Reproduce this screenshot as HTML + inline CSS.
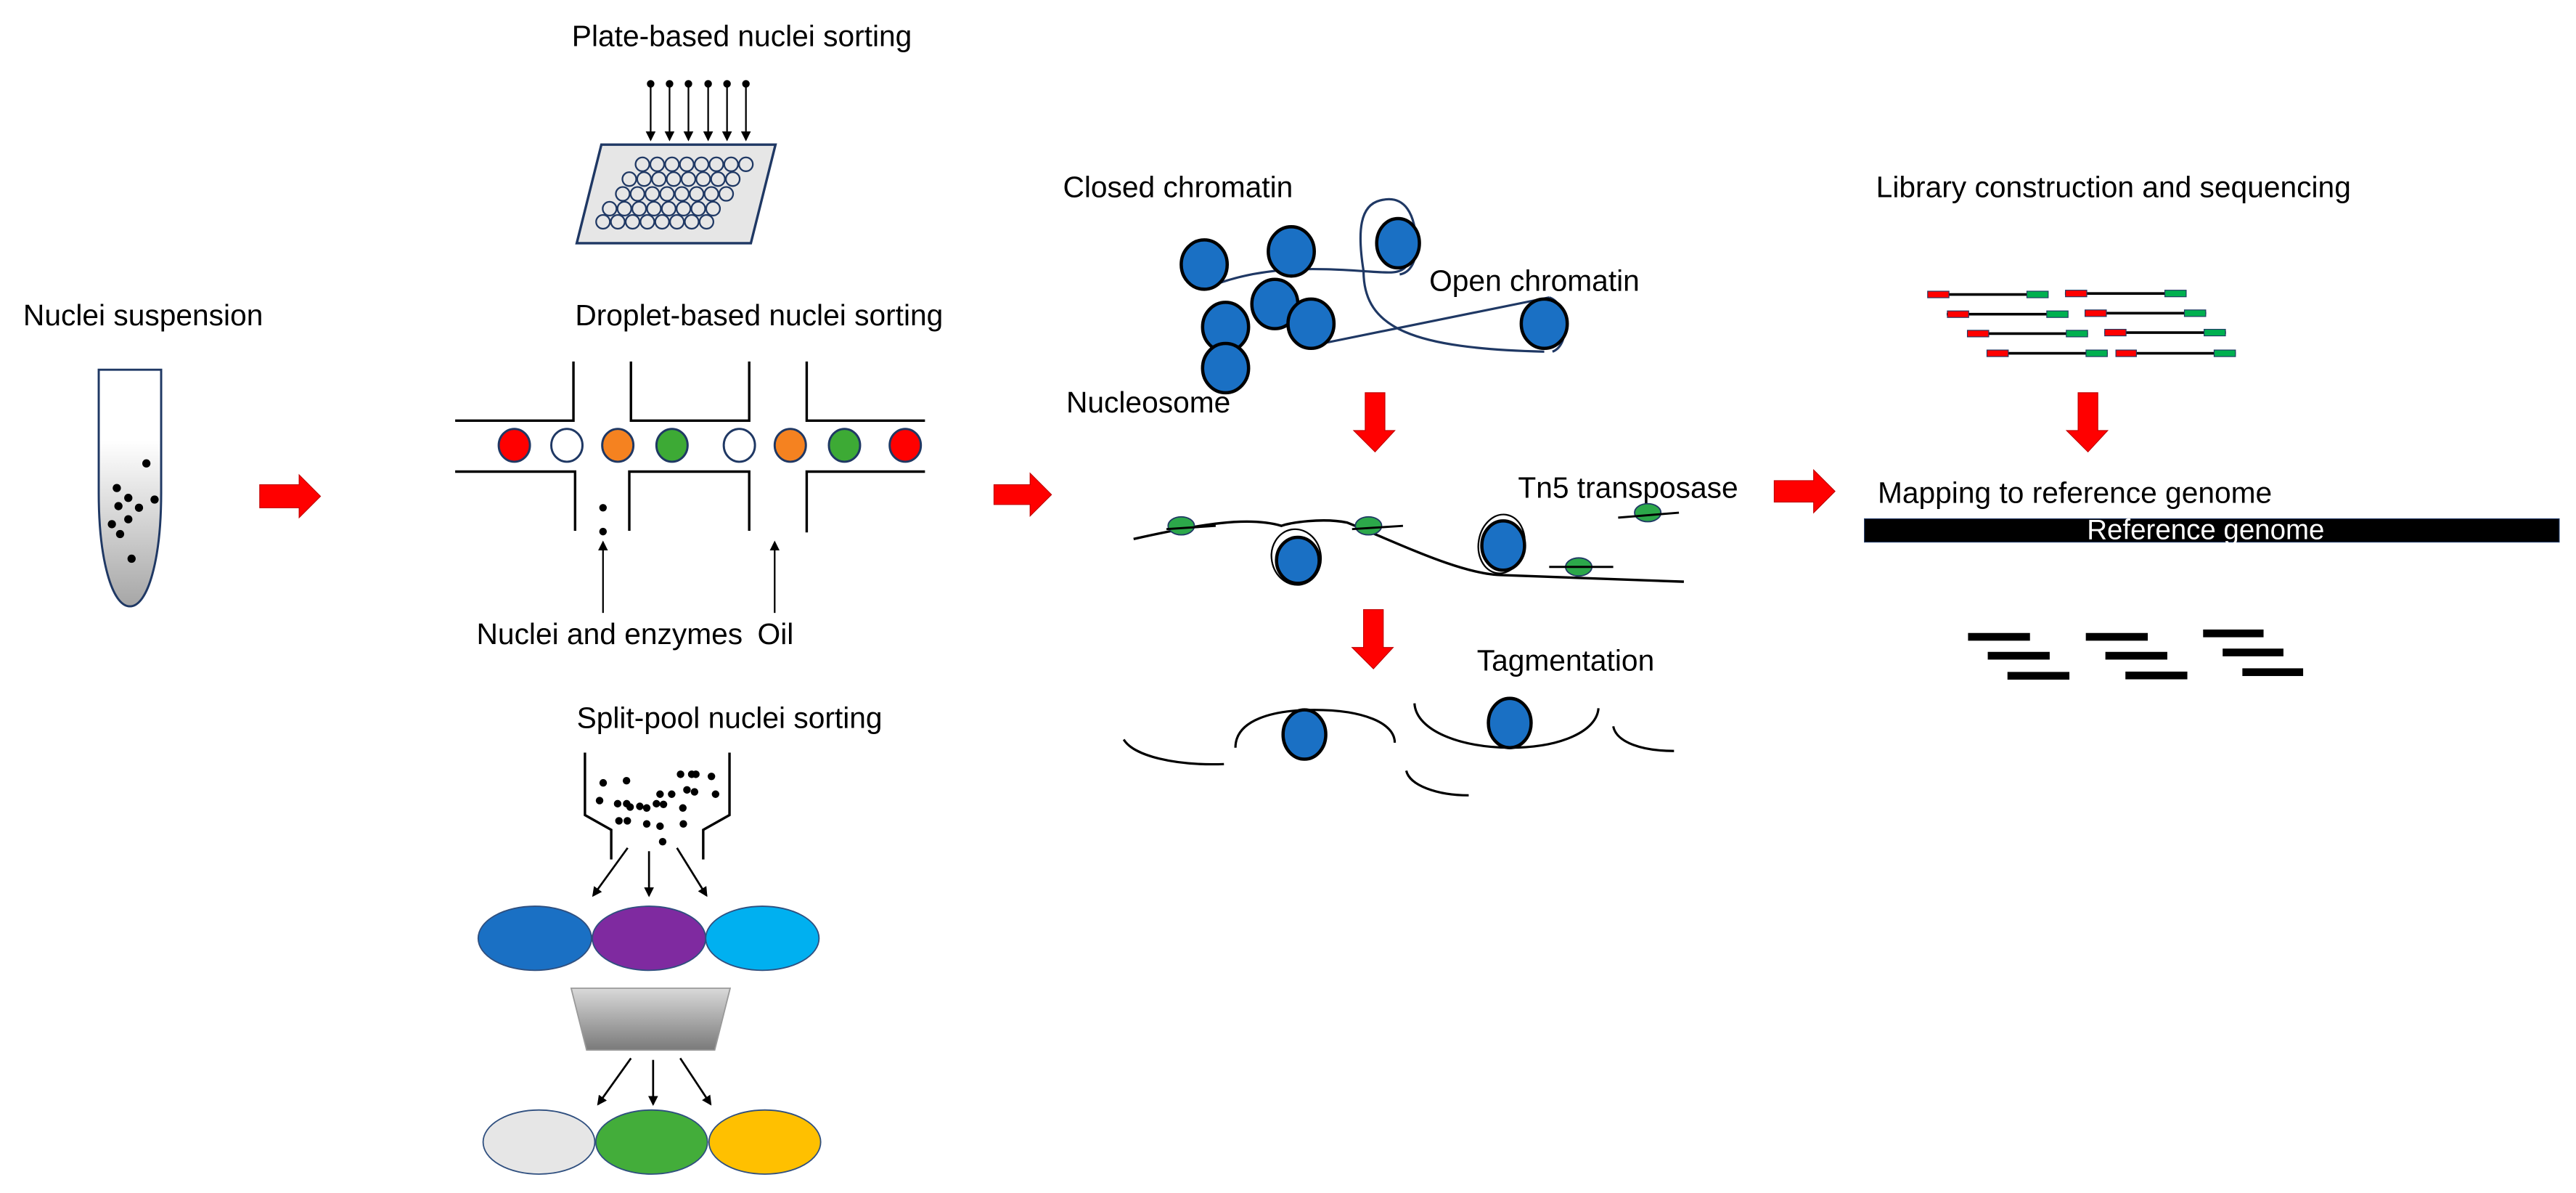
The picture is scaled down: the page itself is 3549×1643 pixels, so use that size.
<!DOCTYPE html>
<html><head><meta charset="utf-8"><style>
html,body{margin:0;padding:0;background:#fff;}
svg{display:block;}
text{font-family:"Liberation Sans",Arial,sans-serif;font-size:18px;fill:#000;}
</style></head><body>
<svg width="3549" height="1643" viewBox="0 0 1568 726" xmlns="http://www.w3.org/2000/svg">
<defs>
<linearGradient id="tube" x1="0" y1="0" x2="0" y2="1">
<stop offset="0" stop-color="#fff"/><stop offset="0.3" stop-color="#fff"/><stop offset="1" stop-color="#a6a6a6"/>
</linearGradient>
<linearGradient id="trap" x1="0" y1="0" x2="0" y2="1">
<stop offset="0" stop-color="#d9d9d9"/><stop offset="1" stop-color="#7a7a7a"/>
</linearGradient>
<marker id="ahs" markerWidth="6" markerHeight="6" refX="5" refY="3" orient="auto" markerUnits="userSpaceOnUse">
<path d="M0,0 L6,3 L0,6 Z" fill="#000"/>
</marker>
</defs>

<text x="348" y="28">Plate-based nuclei sorting</text>
<text x="14" y="198">Nuclei suspension</text>
<text x="350" y="198">Droplet-based nuclei sorting</text>
<text x="290" y="392">Nuclei and enzymes</text>
<text x="461" y="392">Oil</text>
<text x="351" y="443">Split-pool nuclei sorting</text>
<text x="647" y="120">Closed chromatin</text>
<text x="870" y="177">Open chromatin</text>
<text x="649" y="251">Nucleosome</text>
<text x="1142" y="120">Library construction and sequencing</text>
<text x="924" y="303">Tn5 transposase</text>
<text x="1143" y="306">Mapping to reference genome</text>
<text x="899" y="408">Tagmentation</text>

<path d="M60,225 L98,225 L98,300 C98,340 90,369 79,369 C68,369 60,340 60,300 Z" fill="url(#tube)" stroke="#1f3864" stroke-width="1.3"/>
<g fill="#000">
<circle cx="89" cy="282" r="2.5"/><circle cx="71" cy="297" r="2.5"/><circle cx="78" cy="303" r="2.5"/>
<circle cx="94" cy="304" r="2.5"/><circle cx="72" cy="308" r="2.5"/><circle cx="84.5" cy="309" r="2.5"/>
<circle cx="78" cy="316" r="2.5"/><circle cx="68" cy="319" r="2.5"/><circle cx="73" cy="325" r="2.5"/>
<circle cx="80" cy="340" r="2.5"/>
</g>

<g fill="#ff0000" stroke="#c00000" stroke-width="0.5">
<path d="M158,295 L182,295 L182,289 L195,302 L182,315 L182,309 L158,309 Z"/>
<path d="M605,295 L627,295 L627,288 L640,301 L627,314 L627,307 L605,307 Z"/>
<path d="M1080,292.5 L1104,292.5 L1104,286 L1117,299 L1104,312 L1104,305.5 L1080,305.5 Z"/>
<path d="M831,239 L843,239 L843,262 L849,262 L837,275 L824,262 L831,262 Z"/>
<path d="M830,371 L842,371 L842,394 L848,394 L836,407 L823,394 L830,394 Z"/>
<path d="M1265,239 L1277,239 L1277,262 L1283,262 L1271,275 L1258,262 L1265,262 Z"/>
</g>

<g stroke="#000" stroke-width="1">
<line x1="396" y1="51" x2="396" y2="85" marker-end="url(#ahs)"/>
<line x1="407.5" y1="51" x2="407.5" y2="85" marker-end="url(#ahs)"/>
<line x1="419" y1="51" x2="419" y2="85" marker-end="url(#ahs)"/>
<line x1="431" y1="51" x2="431" y2="85" marker-end="url(#ahs)"/>
<line x1="442.5" y1="51" x2="442.5" y2="85" marker-end="url(#ahs)"/>
<line x1="454" y1="51" x2="454" y2="85" marker-end="url(#ahs)"/>
</g>
<g fill="#000"><circle cx="396" cy="51" r="2.3"/><circle cx="407.5" cy="51" r="2.3"/><circle cx="419" cy="51" r="2.3"/><circle cx="431" cy="51" r="2.3"/><circle cx="442.5" cy="51" r="2.3"/><circle cx="454" cy="51" r="2.3"/></g>
<path d="M366,88 L472,88 L457,148 L351,148 Z" fill="#e6e6e6" stroke="#1f3864" stroke-width="1.5"/>
<g fill="none" stroke="#1f3864" stroke-width="1">
<g transform="translate(391,100)"><circle cx="0" cy="0" r="4.2"/><circle cx="9" cy="0" r="4.2"/><circle cx="18" cy="0" r="4.2"/><circle cx="27" cy="0" r="4.2"/><circle cx="36" cy="0" r="4.2"/><circle cx="45" cy="0" r="4.2"/><circle cx="54" cy="0" r="4.2"/><circle cx="63" cy="0" r="4.2"/></g>
<g transform="translate(383,109)"><circle cx="0" cy="0" r="4.2"/><circle cx="9" cy="0" r="4.2"/><circle cx="18" cy="0" r="4.2"/><circle cx="27" cy="0" r="4.2"/><circle cx="36" cy="0" r="4.2"/><circle cx="45" cy="0" r="4.2"/><circle cx="54" cy="0" r="4.2"/><circle cx="63" cy="0" r="4.2"/></g>
<g transform="translate(379,118)"><circle cx="0" cy="0" r="4.2"/><circle cx="9" cy="0" r="4.2"/><circle cx="18" cy="0" r="4.2"/><circle cx="27" cy="0" r="4.2"/><circle cx="36" cy="0" r="4.2"/><circle cx="45" cy="0" r="4.2"/><circle cx="54" cy="0" r="4.2"/><circle cx="63" cy="0" r="4.2"/></g>
<g transform="translate(371,127)"><circle cx="0" cy="0" r="4.2"/><circle cx="9" cy="0" r="4.2"/><circle cx="18" cy="0" r="4.2"/><circle cx="27" cy="0" r="4.2"/><circle cx="36" cy="0" r="4.2"/><circle cx="45" cy="0" r="4.2"/><circle cx="54" cy="0" r="4.2"/><circle cx="63" cy="0" r="4.2"/></g>
<g transform="translate(367,135)"><circle cx="0" cy="0" r="4.2"/><circle cx="9" cy="0" r="4.2"/><circle cx="18" cy="0" r="4.2"/><circle cx="27" cy="0" r="4.2"/><circle cx="36" cy="0" r="4.2"/><circle cx="45" cy="0" r="4.2"/><circle cx="54" cy="0" r="4.2"/><circle cx="63" cy="0" r="4.2"/></g>
</g>

<g stroke="#000" stroke-width="1.5" fill="none">
<path d="M277,256 L349,256 L349,220"/>
<path d="M384,220 L384,256 L456,256 L456,220"/>
<path d="M491,220 L491,256 L563,256"/>
<path d="M277,287 L350,287 L350,323"/>
<path d="M383,323 L383,287 L456,287 L456,323"/>
<path d="M491,324 L491,287 L563,287"/>
</g>
<g stroke="#1f3864" stroke-width="1.3">
<ellipse cx="313" cy="271" rx="9.5" ry="10" fill="#ff0000"/>
<ellipse cx="345" cy="271" rx="9.5" ry="10" fill="#fff"/>
<ellipse cx="376" cy="271" rx="9.5" ry="10" fill="#f58220"/>
<ellipse cx="409" cy="271" rx="9.5" ry="10" fill="#3daa35"/>
<ellipse cx="450" cy="271" rx="9.5" ry="10" fill="#fff"/>
<ellipse cx="481" cy="271" rx="9.5" ry="10" fill="#f58220"/>
<ellipse cx="514" cy="271" rx="9.5" ry="10" fill="#3daa35"/>
<ellipse cx="551" cy="271" rx="9.5" ry="10" fill="#ff0000"/>
</g>
<circle cx="367" cy="309" r="2.3" fill="#000"/><circle cx="367" cy="323.5" r="2.3" fill="#000"/>
<g stroke="#000" stroke-width="1">
<line x1="367" y1="373" x2="367" y2="330" marker-end="url(#ahs)"/>
<line x1="471.5" y1="373" x2="471.5" y2="330" marker-end="url(#ahs)"/>
</g>

<g stroke="#000" stroke-width="1.5" fill="none">
<path d="M356,458 L356,496 L372,505 L372,523"/>
<path d="M444,458 L444,496 L428,505 L428,523"/>
</g>
<g fill="#000">
<circle cx="367.1" cy="476.4" r="2.3"/><circle cx="381.3" cy="475.1" r="2.3"/><circle cx="364.9" cy="487.2" r="2.3"/>
<circle cx="375.9" cy="489.1" r="2.3"/><circle cx="381.4" cy="489.1" r="2.3"/><circle cx="383.5" cy="491.1" r="2.3"/>
<circle cx="389.4" cy="490.7" r="2.3"/><circle cx="393.6" cy="491.7" r="2.3"/><circle cx="399.5" cy="489.1" r="2.3"/>
<circle cx="403.8" cy="489.5" r="2.3"/><circle cx="401.7" cy="483.3" r="2.3"/><circle cx="408.8" cy="483.3" r="2.3"/>
<circle cx="414.2" cy="471.2" r="2.3"/><circle cx="421" cy="471.2" r="2.3"/><circle cx="423.5" cy="471.2" r="2.3"/>
<circle cx="433" cy="472.5" r="2.3"/><circle cx="418.1" cy="480.7" r="2.3"/><circle cx="422.7" cy="481.9" r="2.3"/>
<circle cx="435.5" cy="483.3" r="2.3"/><circle cx="415.6" cy="491.7" r="2.3"/><circle cx="376.7" cy="499.5" r="2.3"/>
<circle cx="381.8" cy="499.5" r="2.3"/><circle cx="393.6" cy="501.4" r="2.3"/><circle cx="401.7" cy="502.8" r="2.3"/>
<circle cx="415.9" cy="501.4" r="2.3"/><circle cx="403.3" cy="512.2" r="2.3"/>
</g>
<g stroke="#000" stroke-width="1.2">
<line x1="382" y1="516" x2="361" y2="545" marker-end="url(#ahs)"/>
<line x1="395" y1="518" x2="395" y2="545" marker-end="url(#ahs)"/>
<line x1="412" y1="516" x2="430" y2="545" marker-end="url(#ahs)"/>
<line x1="384" y1="644" x2="364" y2="672" marker-end="url(#ahs)"/>
<line x1="397.5" y1="645" x2="397.5" y2="672" marker-end="url(#ahs)"/>
<line x1="414" y1="644" x2="432.5" y2="672" marker-end="url(#ahs)"/>
</g>
<g stroke="#2f4f7f" stroke-width="0.8">
<ellipse cx="325.5" cy="571" rx="34.5" ry="19.5" fill="#1a70c4"/>
<ellipse cx="395" cy="571" rx="34.5" ry="19.5" fill="#7f2aa0"/>
<ellipse cx="464" cy="571" rx="34.5" ry="19.5" fill="#00b0f0"/>
<ellipse cx="328" cy="695" rx="34" ry="19.5" fill="#e6e6e6"/>
<ellipse cx="396.6" cy="695" rx="34" ry="19.5" fill="#43ad3a"/>
<ellipse cx="465.5" cy="695" rx="34" ry="19.5" fill="#ffc000"/>
</g>
<path d="M347.6,601.4 L444.4,601.4 L435,639 L357,639 Z" fill="url(#trap)" stroke="#999" stroke-width="0.8"/>

<g fill="none" stroke="#1f3864" stroke-width="1.4">
<path d="M740,173 C770,162 800,163 830,165 C845,166 852,167 856,162"/>
<path d="M830,165 C826,140 828,125 840,122 C855,118 862,130 862,150 C862,160 858,166 852,167"/>
<path d="M830,165 C830,200 860,212 940,214"/>
<path d="M800,210 L943,181"/>
<path d="M943,181 C955,185 956,210 945,214"/>
</g>
<g fill="#1a70c4" stroke="#000" stroke-width="2">
<ellipse cx="733" cy="161" rx="14" ry="15"/>
<ellipse cx="786" cy="153" rx="14" ry="15"/>
<ellipse cx="851" cy="148" rx="13" ry="15"/>
<ellipse cx="776" cy="185" rx="14" ry="15"/>
<ellipse cx="746" cy="199" rx="14" ry="15"/>
<ellipse cx="798" cy="197" rx="14" ry="15"/>
<ellipse cx="746" cy="224" rx="14" ry="15"/>
<ellipse cx="940" cy="197" rx="14" ry="15"/>
</g>

<path d="M690,328 C730,319 760,314 780,320 C785,318 805,315 820,318 C850,330 890,350 915,350 L1025,354" fill="none" stroke="#000" stroke-width="1.5"/>
<g fill="none" stroke="#000" stroke-width="1">
<ellipse cx="789" cy="339" rx="15" ry="17" transform="rotate(-10 789 339)"/>
<ellipse cx="914" cy="331" rx="14" ry="18" transform="rotate(10 914 331)"/>
</g>
<g fill="#1a70c4" stroke="#000" stroke-width="2">
<ellipse cx="790" cy="341" rx="13" ry="14"/>
<ellipse cx="915" cy="332" rx="13" ry="15"/>
</g>
<g fill="#2ca84a" stroke="#1f3864" stroke-width="0.8">
<ellipse cx="719" cy="320" rx="8" ry="5.5"/>
<ellipse cx="833" cy="320" rx="8" ry="5.5"/>
<ellipse cx="1003" cy="312" rx="8" ry="5.5"/>
<ellipse cx="961" cy="345" rx="8" ry="5.5"/>
</g>
<g stroke="#000" stroke-width="1.3">
<line x1="710" y1="322" x2="740" y2="320"/><line x1="823" y1="322" x2="854" y2="320"/>
<line x1="985" y1="315" x2="1022" y2="312"/><line x1="943" y1="345" x2="982" y2="345"/>
</g>

<g fill="none" stroke="#000" stroke-width="1.4">
<path d="M684,450 C690,460 715,466 745,465"/>
<path d="M752,455 C752,438 775,432 800,432 C830,432 849,440 849,452"/>
<path d="M861,428 C862,445 890,455 919,455 C950,455 972,445 973,431"/>
<path d="M982,442 C984,452 1000,457 1019,457"/>
<path d="M856,469 C858,478 875,484 894,484"/>
</g>
<g fill="#1a70c4" stroke="#000" stroke-width="2">
<ellipse cx="794" cy="447" rx="13" ry="15"/>
<ellipse cx="919" cy="440" rx="13" ry="15"/>
</g>

<g stroke="#000" stroke-width="1.6">
<line x1="1174" y1="179.2" x2="1246" y2="179.2"/><line x1="1257" y1="178.6" x2="1331" y2="178.6"/>
<line x1="1185" y1="191.2" x2="1259" y2="191.2"/><line x1="1269" y1="190.6" x2="1343" y2="190.6"/>
<line x1="1198" y1="203" x2="1271" y2="203"/><line x1="1281" y1="202.4" x2="1355" y2="202.4"/>
<line x1="1210" y1="215" x2="1283" y2="215"/><line x1="1288" y1="215" x2="1361" y2="215"/>
</g>
<g stroke="#1f3864" stroke-width="0.5">
<g fill="#ff0000">
<rect x="1173.4" y="177.2" width="13" height="4"/><rect x="1257.3" y="176.6" width="13" height="4"/>
<rect x="1185.4" y="189.2" width="13" height="4"/><rect x="1269.2" y="188.6" width="13" height="4"/>
<rect x="1197.6" y="201" width="13" height="4"/><rect x="1281.2" y="200.4" width="13" height="4"/>
<rect x="1209.5" y="213" width="13" height="4"/><rect x="1288" y="213" width="12.5" height="4"/>
</g>
<g fill="#00b050">
<rect x="1233.8" y="177.2" width="13" height="4"/><rect x="1317.8" y="176.6" width="13" height="4"/>
<rect x="1245.9" y="189.2" width="13" height="4"/><rect x="1329.7" y="188.6" width="13" height="4"/>
<rect x="1257.8" y="201" width="13" height="4"/><rect x="1341.7" y="200.4" width="13" height="4"/>
<rect x="1269.8" y="213" width="13" height="4"/><rect x="1347.8" y="213" width="13" height="4"/>
</g>
</g>

<rect x="1134.9" y="315.7" width="423" height="14.2" fill="#000" stroke="#1f3864" stroke-width="0.5"/>
<text x="1270.4" y="328" style="fill:#fff;font-size:17px">Reference genome</text>

<g fill="#000">
<rect x="1198" y="385.2" width="37.7" height="4.7"/><rect x="1210" y="396.7" width="37.7" height="4.7"/><rect x="1222" y="408.9" width="37.7" height="4.7"/>
<rect x="1269.7" y="385.2" width="37.7" height="4.7"/><rect x="1281.6" y="396.7" width="37.7" height="4.7"/><rect x="1293.8" y="408.7" width="37.7" height="4.7"/>
<rect x="1341.1" y="383.1" width="36.8" height="4.7"/><rect x="1353" y="394.7" width="37" height="4.7"/><rect x="1365" y="406.7" width="37" height="4.7"/>
</g>
</svg>
</body></html>
